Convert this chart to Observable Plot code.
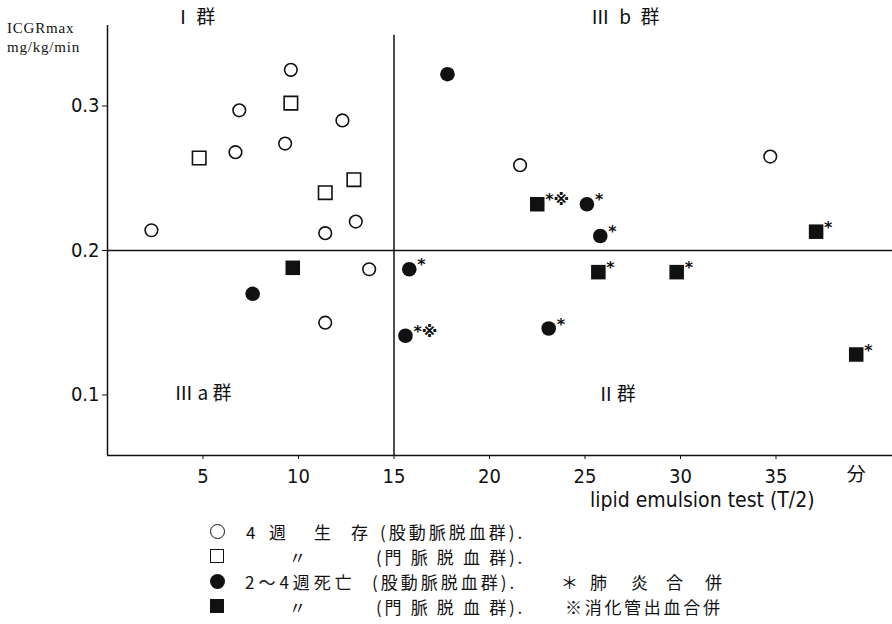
<!DOCTYPE html>
<html><head><meta charset="utf-8">
<script src="https://cdn.jsdelivr.net/npm/d3@7"></script>
<script src="https://cdn.jsdelivr.net/npm/@observablehq/plot@0.6"></script>
<style>
body{margin:0;background:#fff;}
#wrap{position:relative;width:892px;height:624px;overflow:hidden;background:#fff;color:#111;}
.t{position:absolute;white-space:nowrap;line-height:1;font-family:"Noto Sans CJK JP",sans-serif;}
.sym{position:absolute;box-sizing:border-box;}
</style></head><body><div id="wrap"></div>
<script>
// ---- data ----
const survFemX = [2.3, 6.9, 6.7, 9.6, 9.3, 12.3, 13.0, 11.4, 13.7, 11.4, 21.6, 34.7];
const survFemY = [0.214, 0.297, 0.268, 0.325, 0.274, 0.290, 0.220, 0.212, 0.187, 0.150, 0.259, 0.265];
const survPortX = [4.8, 9.6, 12.9, 11.4];
const survPortY = [0.264, 0.302, 0.249, 0.240];
const deadFemX = [17.8, 7.6, 15.8, 15.6, 25.1, 25.8, 23.1];
const deadFemY = [0.322, 0.170, 0.187, 0.141, 0.232, 0.210, 0.146];
const deadFemNote = ["", "", "*", "*※", "*", "*", "*"];
const deadPortX = [9.7, 22.5, 25.7, 29.8, 37.1, 39.2];
const deadPortY = [0.188, 0.232, 0.185, 0.185, 0.213, 0.128];
const deadPortNote = ["", "*※", "*", "*", "*", "*"];
const xTicks = [5, 10, 15, 20, 25, 30, 35];
const yTicks = [0.1, 0.2, 0.3];
const xUnitLabel = "分";
const xUnitPos = 39.2;
const xCut = 15, yCut = 0.2;
const groupLabels = ["Ⅰ\u2009群", "Ⅲ\u2002b\u2002群", "Ⅲ a 群", "Ⅱ\u200a群"];
const groupX = [3.45, 25.3, 3.5, 25.6];
const groupY = [0.361, 0.361, 0.101, 0.0997];

const xDomain = [0, 41.1];
const yDomain = [0.0581, 0.3557];

const toRows = (xs, ys, notes) => xs.map((x, i) => ({x, y: ys[i], note: notes ? notes[i] : ""}));
const sf = toRows(survFemX, survFemY);
const sp = toRows(survPortX, survPortY);
const df = toRows(deadFemX, deadFemY, deadFemNote);
const dp = toRows(deadPortX, deadPortY, deadPortNote);
const groups = groupLabels.map((t, i) => ({t, x: groupX[i], y: groupY[i]}));

const CJK = "Noto Sans CJK JP, sans-serif";
const NUM = "Liberation Sans Narrow, DejaVu Sans Condensed, sans-serif";

const plot = Plot.plot({
  width: 892, height: 515,
  marginLeft: 107, marginRight: 0, marginTop: 25, marginBottom: 60,
  x: {domain: xDomain},
  y: {domain: yDomain},
  style: {fontFamily: NUM, fontSize: "19px", color: "#111", background: "white", overflow: "visible"},
  marks: [
    Plot.ruleX([xDomain[0]], {stroke: "#111", strokeWidth: 1.5}),
    Plot.ruleY([yDomain[0]], {stroke: "#111", strokeWidth: 1.5}),
    Plot.ruleY([yCut], {stroke: "#111", strokeWidth: 1.5}),
    Plot.ruleX([xCut], {y1: 0.349, y2: yDomain[0], stroke: "#111", strokeWidth: 1.5}),
    Plot.axisY({ticks: yTicks, tickFormat: d3.format(".1f"), tickSize: 5, tickPadding: 3, fontSize: 20, fontFamily: NUM, label: null, stroke: "#111"}),
    Plot.axisX({ticks: xTicks, tickSize: 4, tickPadding: 9, fontSize: 20, fontFamily: NUM, label: null, stroke: "#111"}),
    Plot.text([{x: xUnitPos, t: xUnitLabel}], {x: "x", text: "t", frameAnchor: "bottom", lineAnchor: "top", dy: 12, fontSize: 19, fontFamily: CJK, fill: "#111"}),
    Plot.text(groups, {x: "x", y: "y", text: "t", textAnchor: "start", fontSize: 19, fontFamily: CJK, fill: "#111"}),
    Plot.dot(sf, {x: "x", y: "y", r: 6.3, stroke: "#111", strokeWidth: 1.6, fill: "white"}),
    Plot.dot(sp, {x: "x", y: "y", r: 7.6, symbol: "square", stroke: "#111", strokeWidth: 1.6, fill: "white"}),
    Plot.dot(df, {x: "x", y: "y", r: 7.3, fill: "#111"}),
    Plot.dot(dp, {x: "x", y: "y", r: 8.2, symbol: "square", fill: "#111"}),
    Plot.text(df.concat(dp).filter(d => d.note), {x: "x", y: "y", text: "note", textAnchor: "start", dx: 8, dy: -4, fontSize: 16, fontFamily: "DejaVu Sans, sans-serif", fontWeight: "bold", fill: "#111"})
  ]
});
const wrap = document.getElementById("wrap");
wrap.appendChild(plot);

function lbl(text, left, cy, size, extra) {
  const s = document.createElement("span");
  s.className = "t";
  s.textContent = text;
  s.style.left = left + "px";
  s.style.top = (cy - size / 2) + "px";
  s.style.fontSize = size + "px";
  if (extra) Object.assign(s.style, extra);
  wrap.appendChild(s);
}
function sym(kind, cx, cy) {
  const d = document.createElement("div");
  d.className = "sym";
  const w = kind.startsWith("c") ? 15 : 14;
  Object.assign(d.style, {left: (cx - w / 2) + "px", top: (cy - w / 2) + "px", width: w + "px", height: w + "px"});
  if (kind === "circleOpen") Object.assign(d.style, {border: "1.6px solid #111", borderRadius: "50%"});
  if (kind === "circleFill") Object.assign(d.style, {background: "#111", borderRadius: "50%"});
  if (kind === "squareOpen") Object.assign(d.style, {border: "1.6px solid #111"});
  if (kind === "squareFill") Object.assign(d.style, {background: "#111"});
  wrap.appendChild(d);
}

// axis titles
lbl("ICGRmax", 7, 28, 15, {fontFamily: "Liberation Serif, serif", letterSpacing: "0.8px"});
lbl("mg/kg/min", 7, 47, 15, {fontFamily: "Liberation Serif, serif", letterSpacing: "0.8px"});
lbl("lipid emulsion test (T/2)", 590, 500, 21, {fontFamily: NUM});

// legend
const LS = 17;
const rows = [531, 556, 581, 606];
sym("circleOpen", 217, rows[0]);
lbl("4", 246, rows[0], LS);
lbl("週", 269, rows[0], LS);
lbl("生", 314, rows[0], LS);
lbl("存", 351, rows[0], LS);
lbl("(股動脈脱血群).", 380, rows[0], LS, {letterSpacing: "3px"});

sym("squareOpen", 217, rows[1]);
lbl("〃", 289, rows[1], LS);
lbl("(門 脈 脱 血 群).", 376, rows[1], LS, {letterSpacing: "2.7px"});

sym("circleFill", 217, rows[2]);
lbl("2～4週死亡", 245, rows[2], LS, {letterSpacing: "4px"});
lbl("(股動脈脱血群).", 372, rows[2], LS, {letterSpacing: "3px"});
lbl("＊", 561, rows[2], LS);
lbl("肺", 590, rows[2], LS);
lbl("炎", 631, rows[2], LS);
lbl("合", 666, rows[2], LS);
lbl("併", 705, rows[2], LS);

sym("squareFill", 217, rows[3]);
lbl("〃", 289, rows[3], LS);
lbl("(門 脈 脱 血 群).", 376, rows[3], LS, {letterSpacing: "2.7px"});
lbl("※消化管出血合併", 565, rows[3], LS, {letterSpacing: "2.7px"});
</script>
</body></html>
